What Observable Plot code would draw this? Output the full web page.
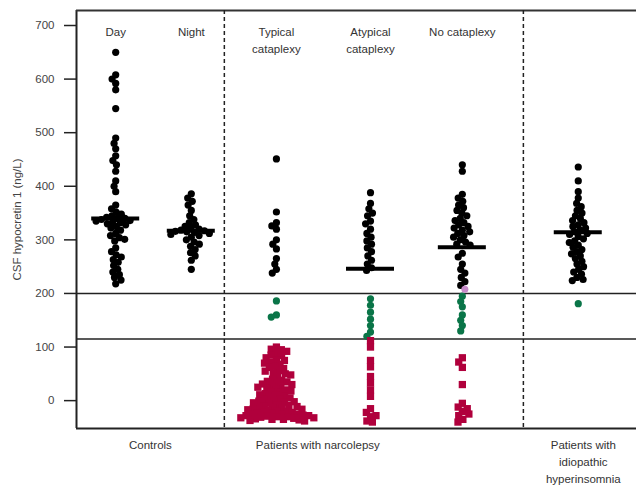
<!DOCTYPE html>
<html>
<head>
<meta charset="utf-8">
<script src="https://cdn.jsdelivr.net/npm/d3@7"></script>
<script src="https://cdn.jsdelivr.net/npm/@observablehq/plot@0.6"></script>
<style>
  html, body { margin: 0; padding: 0; background: #fff; }
  #chart svg { display: block; }
</style>
</head>
<body>
<div id="chart"></div>
<script>
// ---------- data ----------
const groups = ["Day", "Night", "Typical cataplexy", "Atypical cataplexy", "No cataplexy", "Idiopathic hypersomnia"];
const groupPos = [0.70, 2.05, 3.57, 5.25, 6.89, 8.96];
const topLabels = ["Day", "Night", "Typical\ncataplexy", "Atypical\ncataplexy", "No cataplexy", ""];
const medians = [340, 317, -30, 246, 286, 314];

const sectionLabels = ["Controls", "Patients with narcolepsy", "Patients with\nidiopathic\nhyperinsomnia"];
const sectionPos = [1.32, 4.31, 9.05];
const sectionDividers = [2.64, 7.98];

const yTicks = [0, 100, 200, 300, 400, 500, 600, 700];
const thresholds = [115, 200];

const dayValues = [650, 608, 600, 592, 580, 545, 490, 480, 470, 457, 448, 440, 428, 410, 400, 390,
  365, 358, 352, 348, 345, 342, 340, 340, 338, 336, 335, 333, 332, 330, 328, 325, 322, 318, 312, 308,
  304, 301, 298, 285, 278, 272, 268, 263, 258, 252, 245, 240, 235, 230, 225, 218];
const nightValues = [386, 378, 372, 365, 355, 345, 338, 332, 328, 325, 322, 320, 318, 317, 316, 315,
  314, 312, 310, 308, 305, 300, 296, 292, 288, 282, 276, 270, 262, 245];
const typicalValues = [451, 352, 332, 326, 320, 300, 292, 283, 265, 255, 245, 238,
  186, 160, 156,
  100, 96, 95, 92, 88, 85, 84, 80, 76, 75, 72, 70, 68, 64, 62, 60, 56, 55, 52, 50, 48, 45,
  40, 38, 36, 35, 33, 31, 30, 28, 26, 25, 23, 21, 20, 18, 16, 15, 13, 11, 10, 8, 6, 5, 3, 2, 0,
  -1, -2, -3, -4, -5,
  -8, -9, -10, -11, -12, -13, -14, -15, -16, -17, -18, -19, -20, -21, -22, -23, -24, -25, -25, -26,
  -27, -28, -28, -29, -30, -30, -31, -32, -32, -33, -34, -35, -35, -36, -37, -38];
const atypicalValues = [388, 368, 358, 350, 345, 335, 330, 320, 312, 305, 298, 292, 285, 278, 270,
  262, 255, 248, 243,
  190, 178, 165, 152, 140, 128, 120,
  112, 100, 75, 63, 45, 33, 20, 8, -15, -22, -30, -38, -40, -28];
const noCataplexyValues = [440, 428, 385, 378, 372, 365, 360, 355, 350, 345, 340, 336, 332, 328, 325,
  322, 318, 315, 312, 308, 305, 300, 296, 292, 290, 275, 268, 255, 245, 238, 230, 222, 215,
  195, 185, 175, 160, 150, 140, 130,
  80, 72, 62, 30, -5, -12, -20, -28, -35, -40, -15, -25];
const noCataplexySpecial = [208];
const hypersomniaValues = [436, 410, 390, 378, 368, 362, 355, 350, 345, 340, 336, 332, 328, 325, 322,
  318, 315, 312, 310, 306, 302, 298, 295, 290, 286, 282, 278, 274, 270, 265, 260, 255, 250, 245, 240,
  236, 230, 226, 224, 181];

const groupValues = [dayValues, nightValues, typicalValues, atypicalValues, noCataplexyValues, hypersomniaValues];

// ---------- layout ----------
const W = 636, H = 486, mL = 76, mR = 0, mT = 10, mB = 58;
const xDomain = [0, 10], yDomain = [-52, 728];
const yPix = d3.scaleLinear().domain(yDomain).range([H - mB, mT]);
const pxPerUnit = (W - mL - mR) / (xDomain[1] - xDomain[0]);

// simple beeswarm layout in pixel space
function swarm(values, d) {
  const placed = [];
  const out = new Array(values.length);
  values.forEach((v, i) => {
    const y = yPix(v);
    const cands = [0];
    for (const p of placed) {
      const dy = Math.abs(p.y - y);
      if (dy < d) {
        const dx = Math.sqrt(d * d - dy * dy);
        cands.push(p.x + dx, p.x - dx);
      }
    }
    cands.sort((a, b) => Math.abs(a) - Math.abs(b) || a - b);
    let x = 0;
    for (const c of cands) {
      if (placed.every(p => (p.x - c) ** 2 + (p.y - y) ** 2 >= d * d - 1e-6)) { x = c; break; }
    }
    placed.push({x, y});
    out[i] = x;
  });
  return out;
}

const points = [];
groupValues.forEach((vals, gi) => {
  const all = gi === 4 ? vals.concat(noCataplexySpecial) : vals;
  const offs = swarm(all, 5.6);
  all.forEach((v, i) => {
    points.push({
      group: groups[gi],
      x: groupPos[gi] + offs[i] / pxPerUnit,
      v,
      special: gi === 4 && i >= vals.length
    });
  });
});

const crimson = "#b0003c", green = "#0a7548", purple = "#c58ac8";
const halfBar = 24 / pxPerUnit;
const font = "'Liberation Sans', Arial, sans-serif";

const chart = Plot.plot({
  width: W, height: H,
  marginLeft: mL, marginRight: mR, marginTop: mT, marginBottom: mB,
  style: {fontFamily: font, fontSize: "11.5px", background: "#fff"},
  x: {domain: xDomain, axis: null},
  y: {domain: yDomain, axis: null},
  color: {type: "threshold", domain: thresholds, range: [crimson, green, "#000"]},
  marks: [
    Plot.axisY({ticks: yTicks, tickSize: 12, tickPadding: 10, tickFormat: d => d,
      label: "CSF hypocretin 1 (ng/L)", labelAnchor: "center", labelArrow: "none", labelOffset: 64,
      fontSize: 11.5, color: "#444", stroke: "#222", strokeWidth: 1.5}),
    Plot.ruleX([xDomain[0]], {stroke: "#222", strokeWidth: 2}),
    Plot.ruleY([yDomain[1]], {stroke: "#333", strokeWidth: 2}),
    Plot.ruleY([yDomain[0]], {stroke: "#222", strokeWidth: 2}),
    Plot.ruleY(thresholds, {stroke: "#222", strokeWidth: 1.5}),
    Plot.ruleX(sectionDividers, {stroke: "#222", strokeWidth: 1.5, strokeDasharray: "4,3"}),
    Plot.dot(points.filter(d => !d.special && d.v >= thresholds[0]), {x: "x", y: "v", r: 3.6, fill: "v", stroke: null}),
    Plot.dot(points.filter(d => !d.special && d.v < thresholds[0]), {x: "x", y: "v", r: 4.1, symbol: "square", fill: "v", stroke: null}),
    Plot.dot(points.filter(d => d.special), {x: "x", y: "v", r: 3.5, fill: purple, stroke: null}),
    Plot.ruleY(d3.range(groups.length), {
      y: i => medians[i], x1: i => groupPos[i] - halfBar, x2: i => groupPos[i] + halfBar,
      stroke: i => medians[i] < thresholds[0] ? crimson : "#000", strokeWidth: 4
    }),
    Plot.text(d3.range(groups.length), {
      x: i => groupPos[i], text: i => topLabels[i], frameAnchor: "top", dy: 14,
      lineAnchor: "top", lineHeight: 1.45, fill: "#333", fontSize: 11.5
    }),
    Plot.text(d3.range(sectionLabels.length), {
      x: i => sectionPos[i], text: i => sectionLabels[i], frameAnchor: "bottom", dy: 9,
      lineAnchor: "top", lineHeight: 1.45, fill: "#333", fontSize: 11.5
    })
  ]
});
document.getElementById("chart").appendChild(chart);
</script>
</body>
</html>
